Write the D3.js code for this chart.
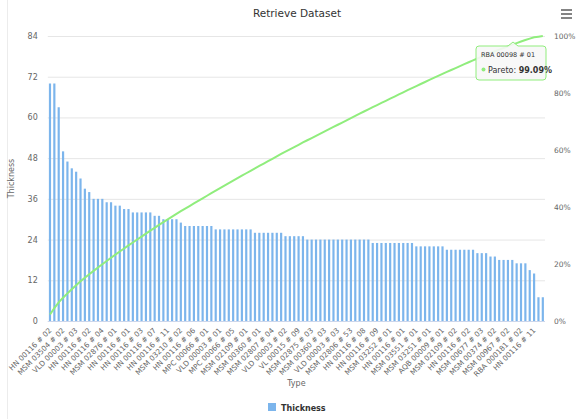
<!DOCTYPE html>
<html lang="en">
<head>
    <meta charset="UTF-8">
    <title>Retrieve Dataset</title>
    <script src="https://d3js.org/d3.v7.min.js"></script>
    <style>
        body { margin: 0; background: #fff; }
        svg { font-family: "DejaVu Sans", sans-serif; }
    </style>
</head>
<body>
    <svg id="chart"></svg>

    <script>
        // Thickness per type, already sorted high to low (114 bars)
        const thickness = [
            70, 70, 63, 50, 47, 45, 44, 42, 39, 38,
            36, 36, 36, 35, 35, 34, 34, 33, 33, 32,
            32, 32, 32, 32, 31, 31, 30, 30, 30, 30,
            29, 28, 28, 28, 28, 28, 28, 28, 27, 27,
            27, 27, 27, 27, 27, 27, 27, 26, 26, 26,
            26, 26, 26, 26, 25, 25, 25, 25, 25, 24,
            24, 24, 24, 24, 24, 24, 24, 24, 24, 24,
            24, 24, 24, 24, 23, 23, 23, 23, 23, 23,
            23, 23, 23, 23, 22, 22, 22, 22, 22, 22,
            22, 21, 21, 21, 21, 21, 21, 21, 20, 20,
            20, 19, 19, 18, 18, 18, 18, 17, 17, 17,
            15, 14, 7, 7
        ];

        // only every third category gets a label
        const labelStep = 3;
        const tickLabels = [
            "HN 00116 # 02", "MSM 03504 # 02", "VLD 00003 # 03", "HN 00116 # 02",
            "HN 00116 # 04", "MSM 02876 # 01", "HN 00116 # 01", "HN 00116 # 03",
            "HN 00116 # 07", "HN 00116 # 11", "MSM 03210 # 02", "HN 00116 # 06",
            "MPC 00066 # 01", "VLD 00003 # 01", "MPC 00066 # 05", "MSM 02109 # 01",
            "MSM 00360 # 01", "MSM 02807 # 04", "VLD 00003 # 02", "VL 00015 # 09",
            "MSM 02875 # 03", "MSM 00360 # 03", "VLD 00003 # 03", "MSM 02806 # 53",
            "HN 00116 # 08", "HN 00116 # 09", "MSM 03252 # 01", "HN 00116 # 01",
            "MSM 03551 # 01", "MSM 03251 # 01", "AQB 00009 # 01", "MSM 02109 # 02",
            "HN 00116 # 02", "MSM 00677 # 03", "MSM 00374 # 02", "MSM 00967 # 02",
            "RBA 000181 # 02", "HN 00116 # 11"
        ];

        const leftTicks = [0, 12, 24, 36, 48, 60, 72, 84];
        const rightTicks = [0, 20, 40, 60, 80, 100];

        // hovered point shown in the tooltip
        const tipCategory = "RBA 00098 # 01";
        const tipIndex = 110;

        const width = 576, height = 419;
        const plot = { left: 47.8, right: 545, top: 36, bottom: 321 };

        const barColor = "#7cb5ec";
        const lineColor = "#90ed7d";

        const svg = d3.select("#chart")
            .attr("width", width)
            .attr("height", height);

        // cumulative percentage for the pareto line
        const total = d3.sum(thickness);
        let run = 0;
        const pareto = thickness.map(v => { run += v; return run / total * 100; });

        const x = d3.scaleBand()
            .domain(d3.range(thickness.length))
            .range([plot.left, plot.right])
            .paddingInner(0.5)
            .paddingOuter(0.25);

        const y = d3.scaleLinear().domain([0, 84]).range([plot.bottom, plot.top]);
        const yPct = d3.scaleLinear().domain([0, 100]).range([plot.bottom, plot.top]);

        // faint page border on the left
        svg.append("line")
            .attr("x1", 7.5).attr("x2", 7.5)
            .attr("y1", 0).attr("y2", height)
            .attr("stroke", "#ececec");

        // grid + left axis
        const leftAxis = svg.append("g")
            .attr("transform", `translate(${plot.left},0)`)
            .call(d3.axisLeft(y).tickValues(leftTicks).tickSize(-(plot.right - plot.left)).tickPadding(10));
        leftAxis.select(".domain").remove();
        leftAxis.selectAll(".tick line").attr("stroke", "#e6e6e6");
        leftAxis.selectAll(".tick text")
            .attr("fill", "#666")
            .style("font-size", "8px")
            .style("font-family", "DejaVu Sans, sans-serif");

        // right axis (percent)
        const rightAxis = svg.append("g")
            .attr("transform", `translate(${plot.right},0)`)
            .call(d3.axisRight(yPct).tickValues(rightTicks).tickSize(0).tickPadding(9)
                .tickFormat(d => d + "%"));
        rightAxis.select(".domain").remove();
        rightAxis.selectAll(".tick text")
            .attr("fill", "#666")
            .style("font-size", "7.5px")
            .style("font-family", "DejaVu Sans, sans-serif");

        // bars
        svg.append("g")
            .selectAll("rect")
            .data(thickness)
            .join("rect")
            .attr("x", (d, i) => x(i))
            .attr("y", d => y(d))
            .attr("width", x.bandwidth())
            .attr("height", d => y(0) - y(d))
            .attr("fill", barColor);

        // x axis line
        svg.append("line")
            .attr("x1", plot.left).attr("x2", plot.right)
            .attr("y1", plot.bottom + 0.5).attr("y2", plot.bottom + 0.5)
            .attr("stroke", "#ccd6eb");

        // pareto line
        const line = d3.line()
            .x((d, i) => x(i) + x.bandwidth() / 2)
            .y(d => yPct(d));

        svg.append("path")
            .datum(pareto)
            .attr("d", line)
            .attr("fill", "none")
            .attr("stroke", lineColor)
            .attr("stroke-width", 2);

        // category labels, rotated
        svg.append("g")
            .selectAll("text")
            .data(tickLabels)
            .join("text")
            .attr("transform", (d, i) => {
                const cx = x(i * labelStep) + x.bandwidth() / 2 + 2;
                return `translate(${cx},${plot.bottom + 10}) rotate(-45)`;
            })
            .attr("text-anchor", "end")
            .attr("fill", "#666")
            .style("font-size", "7.3px")
            .text(d => d);

        // titles
        svg.append("text")
            .attr("x", 297).attr("y", 17)
            .attr("text-anchor", "middle")
            .attr("fill", "#333")
            .style("font-size", "10.5px")
            .text("Retrieve Dataset");

        svg.append("text")
            .attr("x", (plot.left + plot.right) / 2).attr("y", 386)
            .attr("text-anchor", "middle")
            .attr("fill", "#666")
            .style("font-size", "8px")
            .text("Type");

        svg.append("text")
            .attr("transform", `translate(14,${(plot.top + plot.bottom) / 2}) rotate(-90)`)
            .attr("text-anchor", "middle")
            .attr("fill", "#666")
            .style("font-size", "8px")
            .text("Thickness");

        // legend
        const legend = svg.append("g").attr("transform", "translate(268,403)");
        legend.append("rect")
            .attr("width", 8).attr("height", 8)
            .attr("fill", barColor);
        legend.append("text")
            .attr("x", 13).attr("y", 7.5)
            .attr("fill", "#333")
            .style("font-size", "8px")
            .style("font-weight", "bold")
            .text("Thickness");

        // context menu icon
        const menu = svg.append("g").attr("transform", "translate(561,10)");
        [0, 4, 8].forEach(dy => {
            menu.append("line")
                .attr("x1", 0).attr("x2", 11)
                .attr("y1", dy).attr("y2", dy)
                .attr("stroke", "#666")
                .attr("stroke-width", 1.6);
        });

        // tooltip
        const tip = svg.append("g");
        const bx = 476, by = 46, bw = 70, bh = 34, nx = 513;
        tip.append("path")
            .attr("d", `M${bx + 3},${by} L${nx - 5},${by} L${nx},${by - 4} L${nx + 5},${by} L${bx + bw - 3},${by}
                Q${bx + bw},${by} ${bx + bw},${by + 3} L${bx + bw},${by + bh - 3}
                Q${bx + bw},${by + bh} ${bx + bw - 3},${by + bh} L${bx + 3},${by + bh}
                Q${bx},${by + bh} ${bx},${by + bh - 3} L${bx},${by + 3} Q${bx},${by} ${bx + 3},${by} Z`)
            .attr("fill", "rgba(247,247,247,0.9)")
            .attr("stroke", lineColor)
            .attr("stroke-width", 1);
        tip.append("text")
            .attr("x", bx + 5).attr("y", by + 11)
            .attr("fill", "#333")
            .style("font-size", "6.5px")
            .text(tipCategory);
        tip.append("circle")
            .attr("cx", bx + 7.5).attr("cy", by + 23.5)
            .attr("r", 2)
            .attr("fill", lineColor);
        const tipText = tip.append("text")
            .attr("x", bx + 12).attr("y", by + 26.5)
            .attr("fill", "#333")
            .style("font-size", "8px");
        tipText.append("tspan").text("Pareto: ");
        tipText.append("tspan")
            .style("font-weight", "bold")
            .text(pareto[tipIndex].toFixed(2) + "%");
    </script>
</body>
</html>
